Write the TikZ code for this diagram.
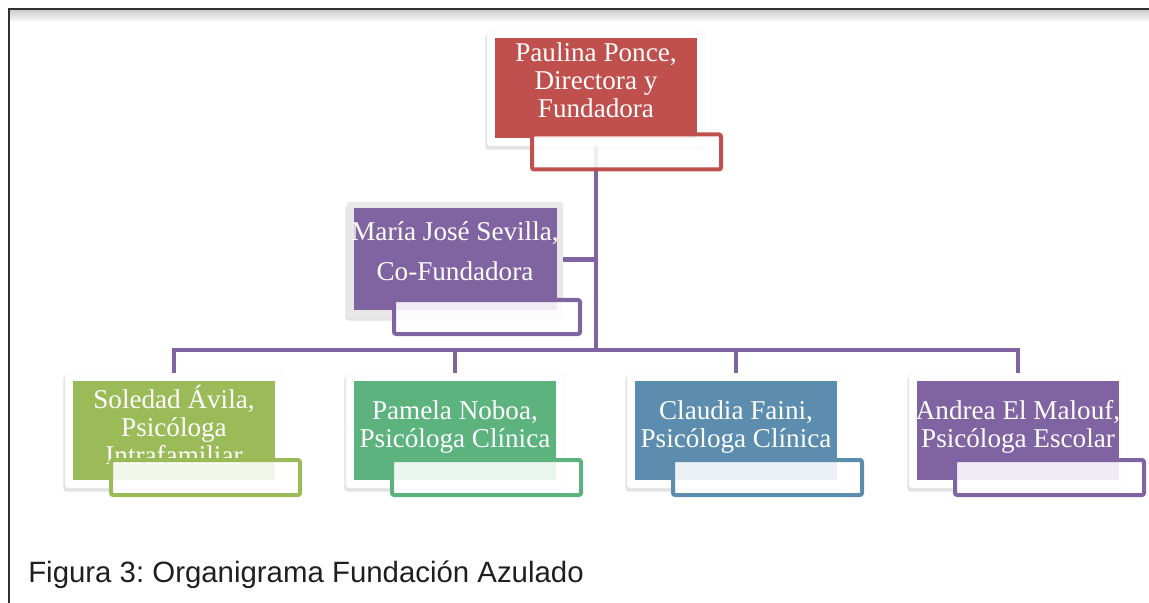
\documentclass[tikz,border=0pt]{standalone}
\usepackage{fontspec}
\setmainfont{Liberation Serif}
\newfontfamily\piefont{Liberation Sans}
\usepackage{tikz}
\usetikzlibrary{shadows,calc,positioning}
\definecolor{rojo}{HTML}{C0504D}
\definecolor{morado}{HTML}{8064A2}
\definecolor{verdeA}{HTML}{9BBB59}
\definecolor{verdeB}{HTML}{5DB37E}
\definecolor{azul}{HTML}{5C8DAE}
\definecolor{marcogris}{HTML}{303030}
\frenchspacing

\begin{document}
\begin{tikzpicture}[x=0.025cm,y=-0.025cm,
  tarjeta/.style={draw=black!7,line width=0.3pt,fill=white,rounded corners=2pt,inner sep=0pt,
    minimum width=218*0.025cm,minimum height=115*0.025cm,
    drop shadow={shadow xshift=-1.2pt,shadow yshift=-2.5pt,opacity=0.22}},
  relleno/.style={fill=#1,draw=none,inner sep=0pt,
    minimum width=202*0.025cm,minimum height=100*0.025cm},
  marco/.style={draw=#1,line width=0.1cm,fill=white,fill opacity=0.88,
    rounded corners=1.5pt,inner sep=0pt,
    minimum width=189*0.025cm,minimum height=35*0.025cm},
  texto/.style={text=white,align=center,inner sep=0pt,
    font=\fontsize{19.3}{20}\selectfont},
  linea/.style={draw=morado,line width=0.1cm}]
\useasboundingbox (0,0) rectangle (1149,603);
%Rahmen oben und links
\shade[top color=black!20,bottom color=white] (10,10) rectangle (1149,22);
\draw[marcogris,line width=0.05cm] (9,603) |- (1149,9);
%Directora
\node[tarjeta] (paulina) at (596,88.5) {};
\node[relleno=rojo] (paulina fondo) at (596,88) {};
\node[texto] (paulina texto) at (596,80) {Paulina Ponce,\\Directora y\\Fundadora};
%Co-Fundadora
\node[tarjeta,fill=black!9,minimum width=216*0.025cm] (maria) at (455,259.5) {};
\node[relleno=morado,minimum width=203*0.025cm,minimum height=102*0.025cm] (maria fondo) at (455.5,259) {};
\node[texto,font=\fontsize{19.3}{28.5}\selectfont] (maria texto) at (455,251) {María José Sevilla,\\Co-Fundadora};
%Psicologas
\coordinate (bus) at (596,350);
\foreach \nom/\col/\cx/\ty/\txt in {sole/verdeA/174/425/{Soledad Ávila,\\Psicóloga\\Intrafamiliar},
    pamela/verdeB/455/427/{Pamela Noboa,\\Psicóloga Clínica},
    claudia/azul/736/427/{Claudia Faini,\\Psicóloga Clínica},
    andrea/morado/1018/427/{Andrea El Malouf,\\Psicóloga Escolar}}{
  \node[tarjeta] (\nom) at (\cx,430.5) {};
  \node[relleno=\col,minimum height=99*0.025cm] (\nom\space fondo) at (\cx,430.5) {};
  \node[texto] (\nom\space texto) at (\cx,\ty) {\txt};
  \draw[linea] (bus) -| (\nom.north);
  \node[marco=\col] (\nom\space marco) at ($(\nom)+(31.5,47)$) {};
}
\draw[linea] (paulina.south) -- (bus);
\draw[linea] (maria.east) -- (maria.east -| bus);
\node[marco=rojo] (paulina marco) at ($(paulina)+(30.5,63.5)$) {};
\node[marco=morado,minimum width=186*0.025cm,minimum height=34*0.025cm] (maria marco) at ($(maria)+(32,57.5)$) {};
%Bildunterschrift
\node[anchor=base west,inner sep=0pt,text=black!88,
  font=\piefont\fontsize{20.9}{24}\selectfont] (pie) at (28,582) {Figura 3: Organigrama Fundación Azulado};
\end{tikzpicture}
\end{document}
